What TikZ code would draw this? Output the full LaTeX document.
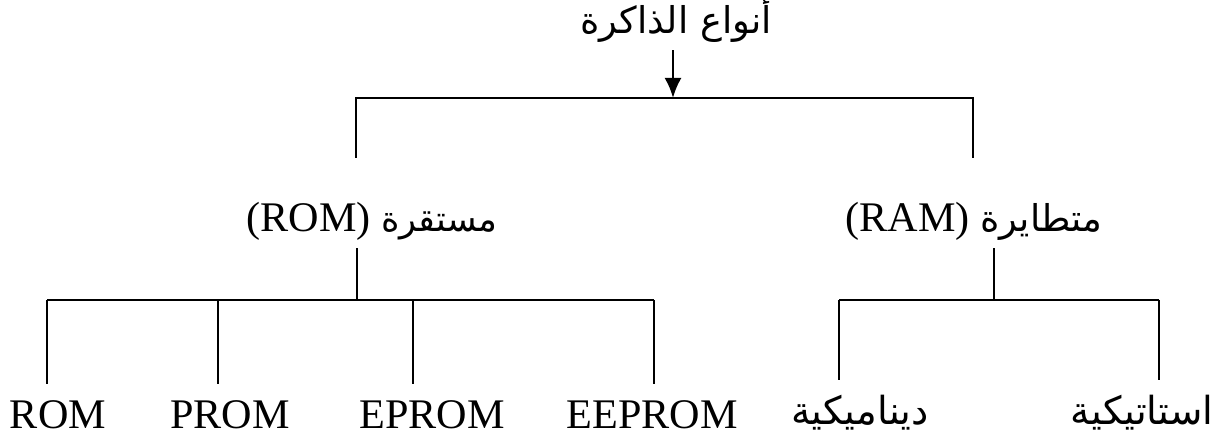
\documentclass[tikz,border=0pt]{standalone}
\usepackage{fontspec}
\setmainfont{Liberation Serif}
\newfontfamily\arabicfont[Script=Arabic]{DejaVu Sans}
\TeXXeTstate=1
\usetikzlibrary{arrows.meta}

\begin{document}
\begin{tikzpicture}[line width=0.7pt,
		every node/.style={font=\fontsize{12}{14}\selectfont, inner sep=0.06cm},
		leaf/.style={anchor=base, text height=0.3cm, text depth=0.1cm, inner sep=0.14cm}]
		\useasboundingbox (0,0) rectangle (12.3,-4.37);

		\node[anchor=base] (memtypes) at (6.76,-0.34) {\arabicfont\fontsize{10.5}{12}\selectfont\beginR أنواع الذاكرة\endR};
		\coordinate (topjoin) at (6.73,-0.98);
		\coordinate (romtop) at (3.56,-1.58);
		\coordinate (ramtop) at (9.73,-1.58);

		\node[anchor=base] (rom) at (3.72,-2.32) {\beginR{\arabicfont\fontsize{10}{12}\selectfont مستقرة} \beginL(ROM)\endL\endR};
		\node[anchor=base] (ram) at (9.74,-2.32) {\beginR{\arabicfont\fontsize{10.5}{12}\selectfont متطايرة} \beginL(RAM)\endL\endR};
		\coordinate (romjoin) at (3.57,-3.00);
		\coordinate (ramjoin) at (9.94,-3.00);

		\node[leaf] (romleaf) at (0.58,-4.29) {ROM};
		\node[leaf] (promleaf) at (2.30,-4.29) {PROM};
		\node[leaf] (epromleaf) at (4.32,-4.29) {EPROM};
		\node[leaf] (eepromleaf) at (6.52,-4.29) {EEPROM};
		\node[leaf] (dynleaf) at (8.60,-4.25) {\arabicfont\fontsize{11}{13}\selectfont\beginR ديناميكية\endR};
		\node[leaf] (statleaf) at (11.42,-4.25) {\arabicfont\fontsize{11}{13}\selectfont\beginR استاتيكية\endR};

		\coordinate (romb1) at (0.47,-3.00);
		\coordinate (romb2) at (2.18,-3.00);
		\coordinate (romb3) at (4.13,-3.00);
		\coordinate (romb4) at (6.54,-3.00);
		\coordinate (ramb1) at (8.39,-3.00);
		\coordinate (ramb2) at (11.59,-3.00);

		% top level
		\draw[-{Latex[length=2mm,width=1.7mm]}] (memtypes.south -| topjoin) -- (topjoin);
		\draw (romtop) -- ++(0,0.6) -| (ramtop);

		% ROM branch
		\draw (rom.south -| romjoin) -- (romjoin);
		\draw (romb1) -- (romb4);
		\draw (romb1) -- (romb1 |- romleaf.north);
		\draw (romb2) -- (romb2 |- promleaf.north);
		\draw (romb3) -- (romb3 |- epromleaf.north);
		\draw (romb4) -- (romb4 |- eepromleaf.north);

		% RAM branch
		\draw (ram.south -| ramjoin) -- (ramjoin);
		\draw (ramb1) -- (ramb2);
		\draw (ramb1) -- (ramb1 |- dynleaf.north);
		\draw (ramb2) -- (ramb2 |- statleaf.north);
	\end{tikzpicture}
\end{document}
